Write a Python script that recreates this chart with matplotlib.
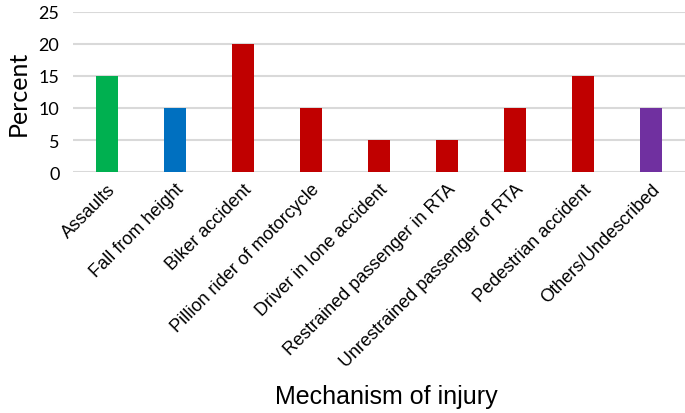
import matplotlib.pyplot as plt

plt.rcParams['font.family'] = ['Liberation Sans', 'DejaVu Sans']

categories = ["Assaults", "Fall from height", "Biker accident", "Pillion rider of motorcycle",
              "Driver in lone accident", "Restrained passenger in RTA",
              "Unrestrained passenger of RTA", "Pedestrian accident", "Others/Undescribed"]
percent = [15, 10, 20, 10, 5, 5, 10, 15, 10]
colors = ["#00B050", "#0070C0", "#C00000", "#C00000", "#C00000", "#C00000",
          "#C00000", "#C00000", "#7030A0"]

fig = plt.figure(figsize=(6.85, 4.14), dpi=100)
ax = fig.add_axes([0.107, 0.582, 0.893, 0.387])

x = range(len(categories))
ax.bar(x, percent, width=0.32, color=colors, zorder=3)

ax.set_xlim(-0.5, len(categories) - 0.5)
ax.set_ylim(0, 25)
ax.set_yticks(range(0, 26, 5))
ax.yaxis.grid(True, color="#D9D9D9", linewidth=1.5, zorder=0)
for s in ax.spines.values():
    s.set_visible(False)
ax.tick_params(axis='both', length=0)
ax.tick_params(axis='y', pad=10)
for lbl in ax.get_yticklabels():
    lbl.set_fontfamily(['Lato', 'DejaVu Sans'])
    lbl.set_fontsize(13)
ax.set_xticks(list(x))
ax.set_xticklabels(categories, rotation=45, ha='right', rotation_mode='anchor', fontsize=13)
ax.tick_params(axis='x', pad=6)

ax.set_ylabel("Percent", fontsize=18, labelpad=6, family=['Lato', 'DejaVu Sans'])
fig.text(0.564, 0.041, "Mechanism of injury", ha='center', va='center', fontsize=18)

fig.savefig("out.png", dpi=100)
